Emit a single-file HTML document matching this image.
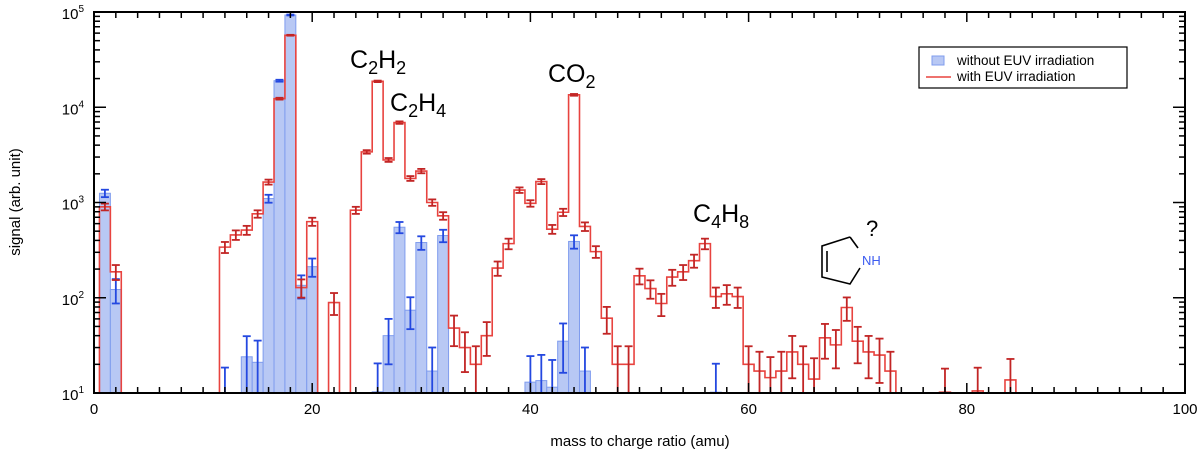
<!DOCTYPE html>
<html><head><meta charset="utf-8"><style>
html,body{margin:0;padding:0;background:#fff;}
svg{display:block;font-family:"Liberation Sans",Arial,sans-serif;}
</style></head><body>
<svg id="chart" width="1200" height="458" viewBox="0 0 1200 458"></svg>
<script>
const masses = [1,2,12,13,14,15,16,17,18,19,20,22,24,25,26,27,28,29,30,31,32,33,34,35,36,37,38,39,40,41,42,43,44,45,46,47,48,49,50,51,52,53,54,55,56,57,58,59,60,61,62,63,64,65,66,67,68,69,70,71,72,73,78,81,84];
const redValues = [900,187,340,457,513,760,1640,12300,57000,128,630,89,830,3400,18700,2800,6900,1790,2140,1000,725,48,30,20,40,205,370,1350,980,1660,525,790,13500,560,305,61,20,20,170,125,87,165,187,245,370,103,110,103,20,17,14.5,17,27,20,14,38,32,79,35,27,25,17,10.2,10.5,13.7];
const blueMasses = [1,2,12,14,15,16,17,18,19,20,26,27,28,29,30,31,32,40,41,42,43,44,45,57];
const blueValues = [1250,122,9,24,21,1100,19000,93000,135,212,10.3,40,550,74,380,17,450,13,13.5,11.5,35,390,17,10.2];
const xTicks = [0,20,40,60,80,100];
const yTicks = [1,2,3,4,5];

const svg = document.getElementById('chart');
const NS = 'http://www.w3.org/2000/svg';
const L=94, R=1185, T=12, B=393;
const xS = m => L + (m/100)*(R-L);
const yS = v => { const lv = Math.log10(Math.max(v,1)); const y = B - (lv-1)/4*(B-T); return Math.min(B, Math.max(T,y)); };
function mk(tag, attrs, parent){ const e=document.createElementNS(NS,tag); for(const k in attrs) e.setAttribute(k,attrs[k]); (parent||svg).appendChild(e); return e; }

const clip = mk('clipPath',{id:'pc'}); mk('rect',{x:L,y:T,width:R-L,height:B-T},clip);
const plot = mk('g',{'clip-path':'url(#pc)'});



// blue bars
blueMasses.forEach((m,i)=>{
  const v = blueValues[i];
  const r = mk('rect',{x:xS(m-0.5),y:yS(v),width:xS(m+0.5)-xS(m-0.5),height:B-yS(v),fill:'#b8c8f4',stroke:'#7f9cee','stroke-width':1},plot);
  
  
});
// red step line
const redMap = {}; masses.forEach((m,i)=>redMap[m]=redValues[i]);
let d=''; let prevY=B;
for(let m=0;m<=100;m++){
  const v = redMap[m]; const y = v? yS(v): B;
  const x0=xS(m-0.5), x1=xS(m+0.5);
  if(d==='') d='M'+x0+' '+B;
  d+=' L'+x0+' '+y+' L'+x1+' '+y;
}
const rl = mk('path',{d:d,fill:'none',stroke:'#e8433f','stroke-width':1.6},plot);


// error bars
function errbar(m,v,f,col,name){
  const e = v*Math.sqrt(f/v);
  const x=xS(m), y1=yS(v+e), y2=yS(Math.max(v-e,1));
  const g = mk('g',{stroke:col,'stroke-width':1.8},plot);
  
  
  mk('line',{x1:x,x2:x,y1:y1,y2:y2},g);
  mk('line',{x1:x-4,x2:x+4,y1:y1,y2:y1},g);
  mk('line',{x1:x-4,x2:x+4,y1:y2,y2:y2},g);
}
blueMasses.forEach((m,i)=>errbar(m,blueValues[i],10,'#2448e0','blue-errorbar-m'+m));
masses.forEach((m,i)=>errbar(m,redValues[i],6,'#c22525','red-errorbar-m'+m));

// axes frame
const fr = mk('rect',{x:L,y:T,width:R-L,height:B-T,fill:'none',stroke:'#000','stroke-width':2});


const tk = mk('g',{stroke:'#000','stroke-width':1.5});


for(let m=0;m<=100;m+=2){
  const len = m%20===0?10:6; const x=xS(m);
  mk('line',{x1:x,x2:x,y1:B,y2:B-len},tk);
  mk('line',{x1:x,x2:x,y1:T,y2:T+len},tk);
}
for(let p=1;p<5;p++){
  for(let k=1;k<10;k++){
    const y=yS(k*Math.pow(10,p)); const len=k===1?12:6;
    mk('line',{x1:L,x2:L+len,y1:y,y2:y},tk);
    mk('line',{x1:R,x2:R-len,y1:y,y2:y},tk);
  }
}
xTicks.forEach(t=>{
  const tx = mk('text',{x:xS(t),y:B+21,'font-size':15,'text-anchor':'middle',fill:'#000'});
  tx.textContent=t;
  
  
});
yTicks.forEach(p=>{
  const tx = mk('text',{x:L-10,y:yS(Math.pow(10,p))+7,'font-size':15,'text-anchor':'end',fill:'#000'});
  tx.innerHTML='10<tspan dy="-7" font-size="10">'+p+'</tspan>';
  
  
});
</script>
<svg width="1200" height="458" style="position:absolute;left:0;top:0;font-family:'Liberation Sans',Arial,sans-serif">
  <text x="640" y="446" font-size="15" text-anchor="middle">mass to charge ratio (amu)</text>
  <text transform="translate(20,202) rotate(-90)" font-size="15" text-anchor="middle">signal (arb. unit)</text>
  <g>
    <rect x="919" y="47" width="208" height="41" fill="#fff" stroke="#000" stroke-width="1.2"/>
    <rect x="932" y="56" width="12" height="9" fill="#b8c8f4" stroke="#7f9cee"/>
    <text x="957" y="65" font-size="13.5">without EUV irradiation</text>
    <line x1="926" x2="951" y1="77" y2="77" stroke="#e8433f" stroke-width="1.5"/>
    <text x="957" y="81" font-size="13.5">with EUV irradiation</text>
  </g>
  <text x="350" y="68" font-size="25">C<tspan dy="6" font-size="18">2</tspan><tspan dy="-6">H</tspan><tspan dy="6" font-size="18">2</tspan></text>
  <text x="390" y="111" font-size="25">C<tspan dy="6" font-size="18">2</tspan><tspan dy="-6">H</tspan><tspan dy="6" font-size="18">4</tspan></text>
  <text x="548" y="82" font-size="25">CO<tspan dy="6" font-size="18">2</tspan></text>
  <text x="693" y="222" font-size="25">C<tspan dy="6" font-size="18">4</tspan><tspan dy="-6">H</tspan><tspan dy="6" font-size="18">8</tspan></text>
  <text x="866" y="236" font-size="22">?</text>
  <g fill="none" stroke="#000" stroke-width="1.6">
    <polyline points="850,237 822,246 822,277 850,284 860,268"/>
    <line x1="850" y1="237" x2="858" y2="248"/>
    <line x1="827" y1="251" x2="827" y2="272"/>
  </g>
  <text x="862" y="265" font-size="13" fill="#3b5bf0">NH</text>
</svg>
</body></html>
